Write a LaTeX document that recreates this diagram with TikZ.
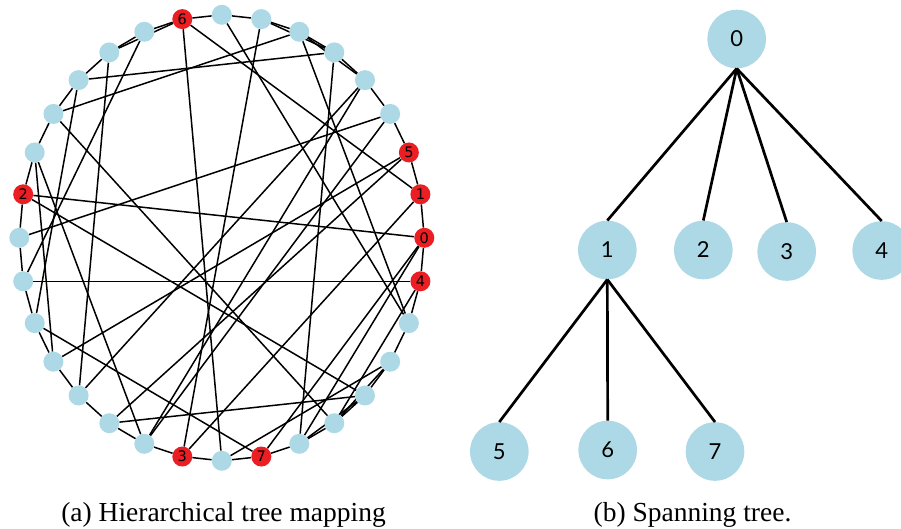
\documentclass[tikz,border=0pt]{standalone}
\usepackage{fontspec}
\setmainfont{Liberation Serif}
\newfontfamily\nodefont{DejaVu Sans}
\newfontfamily\treefont{Lato}
\pgfdeclarelayer{bg}
\pgfsetlayers{bg,main}
\definecolor{nodeblue}{HTML}{ADD8E6}
\definecolor{nodered}{RGB}{234,30,35}
\tikzset{
  gnode/.style={circle, fill=nodeblue, minimum size=20pt, inner sep=0pt,
    font=\nodefont\fontsize{14.5}{14.5}\selectfont},
  rnode/.style={gnode, fill=nodered},
  gedge/.style={line width=1.5pt, black},
  tnode/.style={circle, fill=nodeblue, minimum size=58.6pt, inner sep=0pt,
    font=\treefont\fontsize{22}{22}\selectfont},
  tedge/.style={line width=2.7pt, black},
  captext/.style={font=\fontsize{27.5}{27.5}\selectfont, anchor=base, inner sep=0pt}
}
\begin{document}
\begin{tikzpicture}[x=1pt,y=-1pt]
\useasboundingbox (0,0) rectangle (901,528);

% ---- circular layout: 32 vertices on an ellipse ----
\foreach \k/\lab/\sty in {0/0/rnode,1/1/rnode,2/5/rnode,3/{}/gnode,4/{}/gnode,
  5/{}/gnode,6/{}/gnode,7/{}/gnode,8/{}/gnode,9/6/rnode,10/{}/gnode,11/{}/gnode,
  12/{}/gnode,13/{}/gnode,14/{}/gnode,15/2/rnode,16/{}/gnode,17/{}/gnode,
  18/{}/gnode,19/{}/gnode,20/{}/gnode,21/{}/gnode,22/{}/gnode,23/3/rnode,
  24/{}/gnode,25/7/rnode,26/{}/gnode,27/{}/gnode,28/{}/gnode,29/{}/gnode,
  30/{}/gnode,31/4/rnode}
  \node[\sty] (n\k) at ({221.8+202.5*cos(\k*11.25)},{237.8-223*sin(\k*11.25)}) {\lab};

\begin{pgfonlayer}{bg}
  % ring edges
  \foreach \k [evaluate=\k as \j using {int(mod(\k+1,32))}] in {0,...,31}
    \draw[gedge] (n\k) -- (n\j);
  % second-neighbour edges
  \foreach \a/\b in {9/11,5/7,4/6,27/29,26/28}
    \draw[gedge] (n\a) -- (n\b);
  % long chords
  \foreach \a/\b in {9/24,9/1,8/30,6/30,6/13,5/12,17/31,15/0,15/28,14/19,
    14/22,16/3,13/27,11/20,12/18,10/17,4/20,19/2,21/28,18/25,21/2,22/4,
    7/23,0/25,31/27,24/29,26/5,1/23,3/22,26/0}
    \draw[gedge] (n\a) -- (n\b);
\end{pgfonlayer}

% ---- spanning tree ----
\node[tnode] (t0) at (736.7,39) {0};
\node[tnode] (t1) at (607.3,250) {1};
\node[tnode] (t2) at (703.3,250) {2};
\node[tnode] (t3) at (786.7,251.5) {3};
\node[tnode] (t4) at (881.7,250.5) {4};
\node[tnode] (t5) at (499.3,451.5) {5};
\node[tnode] (t6) at (607.7,450) {6};
\node[tnode] (t7) at (715,451.5) {7};
\foreach \c in {1,2,3,4}
  \draw[tedge] (t0.south) -- (t\c.north);
\foreach \c in {5,6,7}
  \draw[tedge] (t1.south) -- (t\c.north);

% ---- captions ----
\node[captext] (capa) at (223.5,521.5) {(a) Hierarchical tree mapping};
\node[captext] (capb) at (692.5,521.5) {(b) Spanning tree.};
\end{tikzpicture}
\end{document}
